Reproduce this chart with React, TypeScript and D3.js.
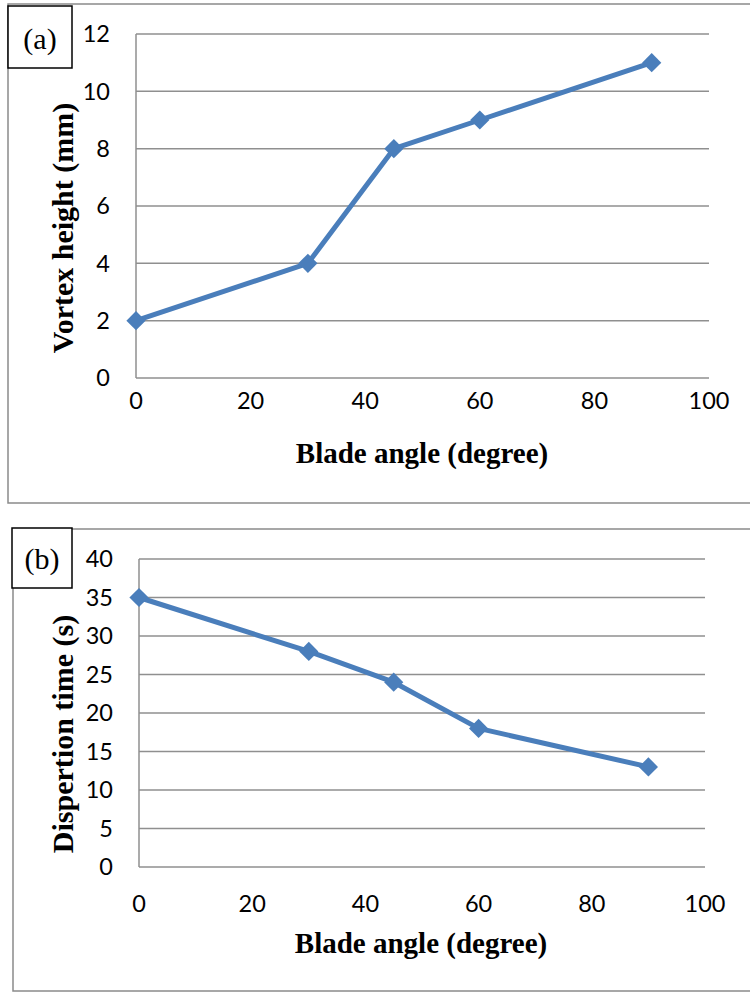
import React from "react";
import * as d3 from "d3";

const bladeAngles = [0, 30, 45, 60, 90];
const vortexHeight = [2, 4, 8, 9, 11];
const dispersionTime = [35, 28, 24, 18, 13];
const xTicks = [0, 20, 40, 60, 80, 100];
const yTicksA = [0, 2, 4, 6, 8, 10, 12];
const yTicksB = [0, 5, 10, 15, 20, 25, 30, 35, 40];
const xTitle = "Blade angle (degree)";
const yTitleA = "Vortex height (mm)";
const yTitleB = "Dispertion time (s)";

const LINE = "#4a7ebb";
const GRID = "#8f8f8f";
const TICK_FONT = "Lato, 'Open Sans', sans-serif";
const SERIF = "'Liberation Serif', 'Times New Roman', serif";

type PanelProps = {
  label: string;
  frame: { x: number; y: number; w: number; h: number };
  box: { x0: number; y0: number; x1: number; y1: number; baseline: number };
  plot: { left: number; right: number; top: number; bottom: number };
  yMax: number;
  yTicks: number[];
  values: number[];
  yTickRight: number;
  xTickY: number;
  xTitleX: number;
  xTitleY: number;
  yTitle: string;
  yTitleX: number;
  yTitleY: number;
};

function Panel(p: PanelProps) {
  const x = d3.scaleLinear().domain([0, 100]).range([p.plot.left, p.plot.right]);
  const y = d3.scaleLinear().domain([0, p.yMax]).range([p.plot.bottom, p.plot.top]);
  const pts: [number, number][] = bladeAngles.map((a, i) => [a, p.values[i]]);
  const line = d3
    .line<[number, number]>()
    .x((d) => x(d[0]))
    .y((d) => y(d[1]));
  const diamond = d3.symbol(d3.symbolDiamond2, 235)();
  return (
    <g>
      <rect
        x={p.frame.x}
        y={p.frame.y}
        width={p.frame.w}
        height={p.frame.h}
        fill="none"
        stroke="#8a8a8a"
        strokeWidth={1.5}
      />
      {p.yTicks.map((t) => (
        <line
          key={"g" + t}
          x1={p.plot.left}
          x2={p.plot.right}
          y1={y(t)}
          y2={y(t)}
          stroke={GRID}
          strokeWidth={1.5}
        />
      ))}
      <line
        x1={p.plot.left}
        x2={p.plot.left}
        y1={p.plot.top}
        y2={p.plot.bottom}
        stroke={GRID}
        strokeWidth={1.5}
      />
      {p.yTicks.map((t) => (
        <text
          key={"yl" + t}
          x={p.yTickRight}
          y={y(t)}
          dy="0.36em"
          textAnchor="end"
          fontFamily={TICK_FONT}
          fontSize={23.5}
          fill="#000"
        >
          {t}
        </text>
      ))}
      {xTicks.map((t) => (
        <text
          key={"xl" + t}
          x={x(t)}
          y={p.xTickY}
          dy="0.36em"
          textAnchor="middle"
          fontFamily={TICK_FONT}
          fontSize={23.5}
          fill="#000"
        >
          {t}
        </text>
      ))}
      <path d={line(pts) || ""} fill="none" stroke={LINE} strokeWidth={5} strokeLinejoin="round" />
      {pts.map((d, i) => (
        <path
          key={"m" + i}
          d={diamond || ""}
          transform={`translate(${x(d[0])},${y(d[1])})`}
          fill={LINE}
        />
      ))}
      <text
        x={p.xTitleX}
        y={p.xTitleY}
        textAnchor="middle"
        fontFamily={SERIF}
        fontWeight="bold"
        fontSize={29}
        fill="#000"
      >
        {xTitle}
      </text>
      <text
        transform={`translate(${p.yTitleX},${p.yTitleY}) rotate(-90)`}
        textAnchor="middle"
        fontFamily={SERIF}
        fontWeight="bold"
        fontSize={30}
        fill="#000"
      >
        {p.yTitle}
      </text>
      <rect
        x={p.box.x0}
        y={p.box.y0}
        width={p.box.x1 - p.box.x0}
        height={p.box.y1 - p.box.y0}
        fill="#fff"
        stroke="#000"
        strokeWidth={1.5}
      />
      <text
        x={(p.box.x0 + p.box.x1) / 2}
        y={p.box.baseline}
        textAnchor="middle"
        fontFamily={SERIF}
        fontSize={30}
        fill="#000"
      >
        {p.label}
      </text>
    </g>
  );
}

export default function App() {
  return (
    <svg
      width={750}
      height={992}
      style={{ position: "absolute", left: 0, top: 0, background: "#fff" }}
    >
      <rect x={0} y={0} width={750} height={992} fill="#fff" />
      <Panel
        label="(a)"
        frame={{ x: 8, y: 4, w: 760, h: 499 }}
        box={{ x0: 8, y0: 6, x1: 72, y1: 68, baseline: 49 }}
        plot={{ left: 136, right: 709, top: 34, bottom: 378 }}
        yMax={12}
        yTicks={yTicksA}
        values={vortexHeight}
        yTickRight={110}
        xTickY={401}
        xTitleX={422}
        xTitleY={463}
        yTitle={yTitleA}
        yTitleX={73}
        yTitleY={228}
      />
      <Panel
        label="(b)"
        frame={{ x: 13, y: 529, w: 760, h: 462 }}
        box={{ x0: 12, y0: 528, x1: 72, y1: 588, baseline: 569 }}
        plot={{ left: 139, right: 705, top: 559, bottom: 867 }}
        yMax={40}
        yTicks={yTicksB}
        values={dispersionTime}
        yTickRight={113}
        xTickY={904}
        xTitleX={421}
        xTitleY={953}
        yTitle={yTitleB}
        yTitleX={73}
        yTitleY={734}
      />
    </svg>
  );
}
